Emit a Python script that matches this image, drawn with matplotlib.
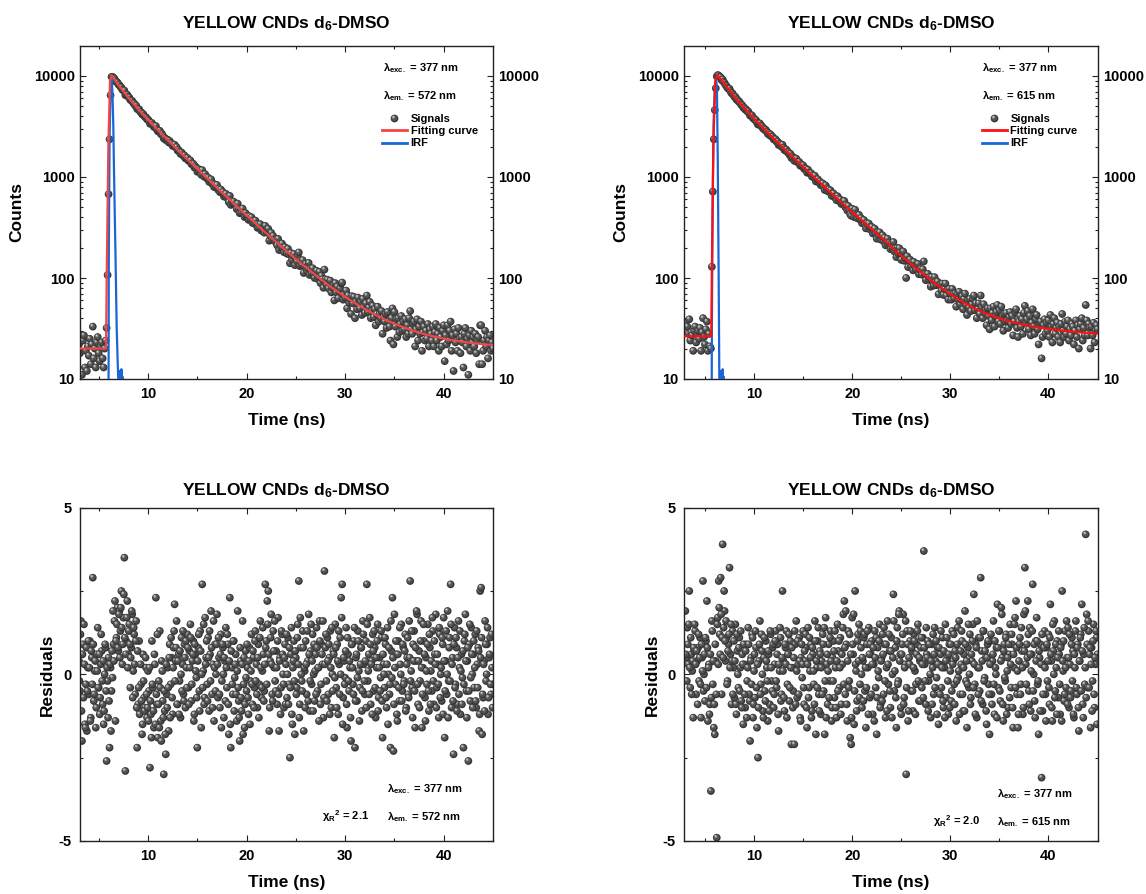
import numpy as np
import matplotlib
matplotlib.use("Agg")
import matplotlib.pyplot as plt
from matplotlib.path import Path
from matplotlib.lines import Line2D
from matplotlib.legend_handler import HandlerTuple
from matplotlib.ticker import LogLocator, NullFormatter, FixedLocator

# ---------------- data ----------------
time_ns = [
    3.0, 3.1, 3.2, 3.3, 3.4, 3.5, 3.6, 3.7, 3.8, 3.9,
    4.0, 4.1, 4.2, 4.3, 4.4, 4.5, 4.6, 4.7, 4.8, 4.9,
    5.0, 5.1, 5.2, 5.3, 5.4, 5.5, 5.6, 5.7, 5.8, 5.9,
    6.0, 6.1, 6.2, 6.3, 6.4, 6.5, 6.6, 6.7, 6.8, 6.9,
    7.0, 7.1, 7.2, 7.3, 7.4, 7.5, 7.6, 7.7, 7.8, 7.9,
    8.0, 8.1, 8.2, 8.3, 8.4, 8.5, 8.6, 8.7, 8.8, 8.9,
    9.0, 9.1, 9.2, 9.3, 9.4, 9.5, 9.6, 9.7, 9.8, 9.9,
    10.0, 10.1, 10.2, 10.3, 10.4, 10.5, 10.6, 10.7, 10.8, 10.9,
    11.0, 11.1, 11.2, 11.3, 11.4, 11.5, 11.6, 11.7, 11.8, 11.9,
    12.0, 12.1, 12.2, 12.3, 12.4, 12.5, 12.6, 12.7, 12.8, 12.9,
    13.0, 13.1, 13.2, 13.3, 13.4, 13.5, 13.6, 13.7, 13.8, 13.9,
    14.0, 14.1, 14.2, 14.3, 14.4, 14.5, 14.6, 14.7, 14.8, 14.9,
    15.0, 15.1, 15.2, 15.3, 15.4, 15.5, 15.6, 15.7, 15.8, 15.9,
    16.0, 16.1, 16.2, 16.3, 16.4, 16.5, 16.6, 16.7, 16.8, 16.9,
    17.0, 17.1, 17.2, 17.3, 17.4, 17.5, 17.6, 17.7, 17.8, 17.9,
    18.0, 18.1, 18.2, 18.3, 18.4, 18.5, 18.6, 18.7, 18.8, 18.9,
    19.0, 19.1, 19.2, 19.3, 19.4, 19.5, 19.6, 19.7, 19.8, 19.9,
    20.0, 20.1, 20.2, 20.3, 20.4, 20.5, 20.6, 20.7, 20.8, 20.9,
    21.0, 21.1, 21.2, 21.3, 21.4, 21.5, 21.6, 21.7, 21.8, 21.9,
    22.0, 22.1, 22.2, 22.3, 22.4, 22.5, 22.6, 22.7, 22.8, 22.9,
    23.0, 23.1, 23.2, 23.3, 23.4, 23.5, 23.6, 23.7, 23.8, 23.9,
    24.0, 24.1, 24.2, 24.3, 24.4, 24.5, 24.6, 24.7, 24.8, 24.9,
    25.0, 25.1, 25.2, 25.3, 25.4, 25.5, 25.6, 25.7, 25.8, 25.9,
    26.0, 26.1, 26.2, 26.3, 26.4, 26.5, 26.6, 26.7, 26.8, 26.9,
    27.0, 27.1, 27.2, 27.3, 27.4, 27.5, 27.6, 27.7, 27.8, 27.9,
    28.0, 28.1, 28.2, 28.3, 28.4, 28.5, 28.6, 28.7, 28.8, 28.9,
    29.0, 29.1, 29.2, 29.3, 29.4, 29.5, 29.6, 29.7, 29.8, 29.9,
    30.0, 30.1, 30.2, 30.3, 30.4, 30.5, 30.6, 30.7, 30.8, 30.9,
    31.0, 31.1, 31.2, 31.3, 31.4, 31.5, 31.6, 31.7, 31.8, 31.9,
    32.0, 32.1, 32.2, 32.3, 32.4, 32.5, 32.6, 32.7, 32.8, 32.9,
    33.0, 33.1, 33.2, 33.3, 33.4, 33.5, 33.6, 33.7, 33.8, 33.9,
    34.0, 34.1, 34.2, 34.3, 34.4, 34.5, 34.6, 34.7, 34.8, 34.9,
    35.0, 35.1, 35.2, 35.3, 35.4, 35.5, 35.6, 35.7, 35.8, 35.9,
    36.0, 36.1, 36.2, 36.3, 36.4, 36.5, 36.6, 36.7, 36.8, 36.9,
    37.0, 37.1, 37.2, 37.3, 37.4, 37.5, 37.6, 37.7, 37.8, 37.9,
    38.0, 38.1, 38.2, 38.3, 38.4, 38.5, 38.6, 38.7, 38.8, 38.9,
    39.0, 39.1, 39.2, 39.3, 39.4, 39.5, 39.6, 39.7, 39.8, 39.9,
    40.0, 40.1, 40.2, 40.3, 40.4, 40.5, 40.6, 40.7, 40.8, 40.9,
    41.0, 41.1, 41.2, 41.3, 41.4, 41.5, 41.6, 41.7, 41.8, 41.9,
    42.0, 42.1, 42.2, 42.3, 42.4, 42.5, 42.6, 42.7, 42.8, 42.9,
    43.0, 43.1, 43.2, 43.3, 43.4, 43.5, 43.6, 43.7, 43.8, 43.9,
    44.0, 44.1, 44.2, 44.3, 44.4, 44.5, 44.6, 44.7, 44.8, 44.9,
    45.0,
]

# in-between channels (residual panels are denser)
time_ns_mid = [
    3.05, 3.15, 3.25, 3.35, 3.45, 3.55, 3.65, 3.75, 3.85, 3.95,
    4.05, 4.15, 4.25, 4.35, 4.45, 4.55, 4.65, 4.75, 4.85, 4.95,
    5.05, 5.15, 5.25, 5.35, 5.45, 5.55, 5.65, 5.75, 5.85, 5.95,
    6.05, 6.15, 6.25, 6.35, 6.45, 6.55, 6.65, 6.75, 6.85, 6.95,
    7.05, 7.15, 7.25, 7.35, 7.45, 7.55, 7.65, 7.75, 7.85, 7.95,
    8.05, 8.15, 8.25, 8.35, 8.45, 8.55, 8.65, 8.75, 8.85, 8.95,
    9.05, 9.15, 9.25, 9.35, 9.45, 9.55, 9.65, 9.75, 9.85, 9.95,
    10.05, 10.15, 10.25, 10.35, 10.45, 10.55, 10.65, 10.75, 10.85, 10.95,
    11.05, 11.15, 11.25, 11.35, 11.45, 11.55, 11.65, 11.75, 11.85, 11.95,
    12.05, 12.15, 12.25, 12.35, 12.45, 12.55, 12.65, 12.75, 12.85, 12.95,
    13.05, 13.15, 13.25, 13.35, 13.45, 13.55, 13.65, 13.75, 13.85, 13.95,
    14.05, 14.15, 14.25, 14.35, 14.45, 14.55, 14.65, 14.75, 14.85, 14.95,
    15.05, 15.15, 15.25, 15.35, 15.45, 15.55, 15.65, 15.75, 15.85, 15.95,
    16.05, 16.15, 16.25, 16.35, 16.45, 16.55, 16.65, 16.75, 16.85, 16.95,
    17.05, 17.15, 17.25, 17.35, 17.45, 17.55, 17.65, 17.75, 17.85, 17.95,
    18.05, 18.15, 18.25, 18.35, 18.45, 18.55, 18.65, 18.75, 18.85, 18.95,
    19.05, 19.15, 19.25, 19.35, 19.45, 19.55, 19.65, 19.75, 19.85, 19.95,
    20.05, 20.15, 20.25, 20.35, 20.45, 20.55, 20.65, 20.75, 20.85, 20.95,
    21.05, 21.15, 21.25, 21.35, 21.45, 21.55, 21.65, 21.75, 21.85, 21.95,
    22.05, 22.15, 22.25, 22.35, 22.45, 22.55, 22.65, 22.75, 22.85, 22.95,
    23.05, 23.15, 23.25, 23.35, 23.45, 23.55, 23.65, 23.75, 23.85, 23.95,
    24.05, 24.15, 24.25, 24.35, 24.45, 24.55, 24.65, 24.75, 24.85, 24.95,
    25.05, 25.15, 25.25, 25.35, 25.45, 25.55, 25.65, 25.75, 25.85, 25.95,
    26.05, 26.15, 26.25, 26.35, 26.45, 26.55, 26.65, 26.75, 26.85, 26.95,
    27.05, 27.15, 27.25, 27.35, 27.45, 27.55, 27.65, 27.75, 27.85, 27.95,
    28.05, 28.15, 28.25, 28.35, 28.45, 28.55, 28.65, 28.75, 28.85, 28.95,
    29.05, 29.15, 29.25, 29.35, 29.45, 29.55, 29.65, 29.75, 29.85, 29.95,
    30.05, 30.15, 30.25, 30.35, 30.45, 30.55, 30.65, 30.75, 30.85, 30.95,
    31.05, 31.15, 31.25, 31.35, 31.45, 31.55, 31.65, 31.75, 31.85, 31.95,
    32.05, 32.15, 32.25, 32.35, 32.45, 32.55, 32.65, 32.75, 32.85, 32.95,
    33.05, 33.15, 33.25, 33.35, 33.45, 33.55, 33.65, 33.75, 33.85, 33.95,
    34.05, 34.15, 34.25, 34.35, 34.45, 34.55, 34.65, 34.75, 34.85, 34.95,
    35.05, 35.15, 35.25, 35.35, 35.45, 35.55, 35.65, 35.75, 35.85, 35.95,
    36.05, 36.15, 36.25, 36.35, 36.45, 36.55, 36.65, 36.75, 36.85, 36.95,
    37.05, 37.15, 37.25, 37.35, 37.45, 37.55, 37.65, 37.75, 37.85, 37.95,
    38.05, 38.15, 38.25, 38.35, 38.45, 38.55, 38.65, 38.75, 38.85, 38.95,
    39.05, 39.15, 39.25, 39.35, 39.45, 39.55, 39.65, 39.75, 39.85, 39.95,
    40.05, 40.15, 40.25, 40.35, 40.45, 40.55, 40.65, 40.75, 40.85, 40.95,
    41.05, 41.15, 41.25, 41.35, 41.45, 41.55, 41.65, 41.75, 41.85, 41.95,
    42.05, 42.15, 42.25, 42.35, 42.45, 42.55, 42.65, 42.75, 42.85, 42.95,
    43.05, 43.15, 43.25, 43.35, 43.45, 43.55, 43.65, 43.75, 43.85, 43.95,
    44.05, 44.15, 44.25, 44.35, 44.45, 44.55, 44.65, 44.75, 44.85, 44.95,
]

# Decay signals (counts), 572 nm emission
signals_572 = [
    22, 18, 27, 11, 24, 27, 13, 19, 12, 21,
    17, 25, 14, 22, 33, 16, 20, 13, 23, 26,
    18, 15, 21, 23, 16, 13, 20, 24, 32, 107,
    676, 2360, 6450, 9800, 9810, 9613, 9395, 8833, 8802, 8624,
    8251, 8113, 7821, 7693, 7300, 7219, 7174, 6460, 6596, 6513,
    6212, 6114, 5804, 5736, 5666, 5399, 5343, 5080, 5106, 4714,
    4682, 4692, 4433, 4374, 4171, 4225, 4041, 3925, 3905, 3720,
    3715, 3590, 3368, 3379, 3428, 3269, 3126, 3160, 3197, 2951,
    2828, 2852, 2866, 2659, 2692, 2570, 2400, 2440, 2320, 2355,
    2341, 2198, 2270, 2164, 2153, 2028, 2074, 2087, 1968, 1977,
    1826, 1850, 1776, 1691, 1752, 1682, 1610, 1635, 1524, 1538,
    1543, 1450, 1459, 1457, 1341, 1357, 1349, 1241, 1278, 1226,
    1127, 1204, 1135, 1172, 1051, 1170, 1061, 1006, 1067, 1007,
    961, 984, 895, 928, 948, 854, 862, 795, 843, 800,
    833, 747, 764, 707, 751, 699, 710, 640, 670, 682,
    623, 641, 562, 650, 529, 575, 544, 569, 533, 538,
    481, 545, 474, 438, 481, 438, 487, 437, 401, 439,
    407, 412, 376, 408, 380, 399, 351, 370, 345, 370,
    345, 314, 341, 314, 341, 294, 302, 304, 281, 328,
    294, 308, 307, 234, 262, 280, 237, 261, 240, 229,
    239, 210, 244, 189, 217, 200, 219, 198, 180, 202,
    191, 174, 195, 172, 140, 177, 151, 166, 173, 134,
    160, 146, 166, 179, 131, 149, 135, 150, 112, 131,
    138, 118, 127, 141, 107, 124, 111, 125, 110, 100,
    112, 118, 98, 103, 115, 89, 105, 97, 80, 121,
    97, 86, 96, 79, 89, 94, 72, 80, 85, 60,
    89, 72, 82, 63, 74, 79, 88, 90, 61, 69,
    64, 75, 50, 67, 57, 62, 44, 66, 56, 65,
    40, 59, 49, 64, 53, 50, 58, 43, 62, 52,
    45, 56, 67, 46, 51, 58, 40, 48, 53, 41,
    49, 34, 44, 52, 37, 44, 40, 47, 28, 41,
    37, 44, 32, 46, 37, 33, 24, 40, 50, 22,
    46, 33, 39, 26, 40, 29, 35, 42, 30, 37,
    31, 39, 26, 34, 28, 40, 47, 31, 28, 35,
    37, 21, 31, 39, 24, 33, 28, 37, 19, 29,
    33, 24, 30, 25, 35, 21, 31, 28, 24, 33,
    21, 29, 35, 24, 28, 19, 32, 26, 21, 30,
    34, 15, 27, 22, 34, 24, 30, 37, 19, 27,
    12, 31, 23, 28, 19, 32, 25, 18, 26, 23,
    13, 28, 32, 21, 25, 11, 27, 19, 30, 23,
    26, 21, 28, 18, 24, 26, 14, 34, 34, 14,
    19, 24, 30, 21, 26, 16, 24, 27, 19, 23,
    20,
]

# Decay signals (counts), 615 nm emission
signals_615 = [
    36, 29, 33, 28, 39, 24, 29, 27, 19, 30,
    33, 23, 28, 30, 25, 32, 19, 29, 40, 26,
    22, 31, 37, 19, 28, 21, 20, 129, 716, 2360,
    4600, 7560, 9900, 10200, 10100, 9834, 9706, 9085, 9234, 8731,
    8517, 8129, 7947, 7599, 7486, 7479, 7061, 6747, 6741, 6471,
    6224, 6225, 5850, 5835, 5607, 5577, 5372, 5165, 5135, 4858,
    4861, 4649, 4661, 4472, 4472, 4237, 4046, 4108, 4056, 3805,
    3800, 3662, 3665, 3436, 3304, 3396, 3389, 3205, 3188, 3017,
    3035, 2913, 2928, 2819, 2674, 2717, 2582, 2631, 2504, 2499,
    2356, 2367, 2362, 2230, 2243, 2074, 2112, 2112, 1990, 2085,
    1949, 1842, 1883, 1865, 1759, 1759, 1664, 1702, 1541, 1599,
    1538, 1443, 1527, 1522, 1404, 1411, 1412, 1294, 1332, 1282,
    1305, 1201, 1221, 1210, 1104, 1181, 1097, 1090, 1094, 1007,
    1040, 991, 1029, 903, 945, 950, 883, 903, 829, 858,
    863, 797, 743, 825, 770, 722, 755, 711, 736, 651,
    687, 686, 629, 639, 589, 646, 613, 574, 598, 540,
    557, 580, 579, 503, 527, 466, 516, 473, 427, 413,
    485, 453, 401, 474, 417, 391, 423, 421, 377, 392,
    349, 369, 375, 338, 310, 350, 331, 346, 303, 320,
    320, 276, 296, 308, 273, 245, 283, 262, 283, 240,
    258, 264, 231, 250, 211, 229, 245, 212, 222, 193,
    219, 198, 227, 183, 197, 161, 198, 173, 197, 177,
    151, 174, 183, 148, 158, 100, 164, 128, 149, 152,
    131, 143, 119, 144, 129, 122, 133, 138, 109, 120,
    123, 108, 122, 146, 109, 95, 108, 110, 97, 102,
    82, 102, 94, 84, 102, 91, 85, 92, 69, 85,
    86, 75, 88, 68, 78, 88, 67, 76, 61, 78,
    70, 61, 78, 69, 63, 70, 52, 69, 61, 73,
    55, 61, 66, 49, 62, 70, 54, 43, 60, 51,
    62, 47, 55, 62, 67, 48, 56, 40, 49, 56,
    44, 67, 51, 40, 55, 45, 48, 34, 50, 42,
    31, 50, 38, 45, 52, 33, 42, 46, 54, 37,
    48, 35, 52, 42, 30, 44, 37, 45, 38, 32,
    41, 46, 35, 42, 27, 37, 46, 49, 32, 26,
    37, 42, 33, 39, 28, 45, 53, 36, 39, 47,
    31, 42, 27, 36, 49, 33, 28, 39, 43, 31,
    22, 35, 37, 16, 26, 34, 39, 28, 36, 30,
    38, 26, 43, 33, 23, 35, 40, 28, 32, 36,
    26, 33, 23, 35, 44, 30, 26, 37, 28, 33,
    38, 24, 31, 27, 35, 33, 22, 30, 38, 26,
    34, 20, 31, 35, 40, 24, 32, 27, 54, 38,
    27, 35, 32, 20, 33, 27, 36, 23, 30, 34,
    31,
]

# Weighted residuals at time_ns
residuals_572 = [
    0.4, -0.5, 1.6, -2.0, 0.9, 1.5, -1.5, -0.3, -1.7, 0.2,
    -0.6, 1.0, -1.3, 0.5, 2.9, -0.8, 0.1, -1.6, 0.6, 1.4,
    -0.4, -1.2, 0.3, 0.7, -0.9, -1.5, 0.0, 0.8, -2.6, -0.2,
    0.5, -2.2, 0.2, -0.5, -0.1, 0.9, 1.6, -1.4, 1.1, 2.0,
    0.7, 1.9, 1.3, 2.5, 0.3, 1.7, 3.5, -2.9, 1.0, 2.2,
    0.6, 1.5, -0.4, 0.8, 1.8, 0.1, 1.2, -0.6, 1.6, -2.2,
    -0.9, 1.0, -1.1, -0.3, -1.8, 0.6, -0.7, -1.0, 0.2, -1.3,
    0.1, -0.5, -2.8, -1.2, 1.0, -0.4, -1.6, 0.3, 2.3, -0.9,
    -1.9, -0.2, 1.3, -1.4, 0.4, -0.8, -3.0, -1.1, -2.4, -0.6,
    0.2, -1.7, 0.9, -0.3, 0.5, -1.2, 0.8, 2.1, 0.4, 1.6,
    -0.9, 0.6, -0.2, -1.3, 1.1, 0.3, -0.6, 0.9, -1.0, 0.2,
    1.2, -0.4, 0.7, 1.5, -0.8, 0.4, 1.0, -1.2, 0.6, -0.1,
    -2.2, 0.8, -0.5, 1.3, -1.6, 2.7, 0.1, -0.9, 1.7, 0.5,
    -0.3, 1.1, -1.1, 0.6, 1.9, -0.6, 0.3, -1.4, 0.9, 0.0,
    1.8, -0.7, 0.5, -1.0, 1.2, -0.2, 0.8, -1.3, 0.4, 1.4,
    -0.4, 0.9, -1.8, 2.3, -2.2, 0.2, -0.6, 1.0, -0.1, 0.6,
    -1.4, 1.9, -0.8, -2.0, 0.4, -1.1, 1.6, -0.3, -1.6, 0.7,
    -0.5, 0.2, -1.2, 0.8, -0.2, 1.2, -0.9, 0.5, -0.4, 1.3,
    0.3, -1.0, 0.9, -0.3, 1.6, -0.7, 0.1, 0.6, -0.5, 2.7,
    1.0, 2.2, 2.5, -1.7, 0.4, 1.8, -0.6, 1.3, 0.2, -0.2,
    0.7, -0.9, 1.7, -1.7, 0.5, -0.4, 1.2, 0.0, -1.0, 0.9,
    0.3, -0.7, 1.1, -0.3, -2.5, 0.6, -1.2, 0.2, 1.0, -1.8,
    0.5, -0.4, 1.5, 2.8, -0.9, 0.8, -0.2, 1.3, -1.7, 0.1,
    1.0, -0.6, 0.4, 1.8, -1.1, 0.7, -0.3, 1.2, 0.0, -0.8,
    0.6, 1.4, -0.5, 0.2, 1.6, -0.9, 0.9, 0.3, -1.3, 3.1,
    0.8, -0.2, 1.1, -0.6, 0.5, 1.3, -1.0, 0.0, 0.7, -1.9,
    1.5, -0.4, 0.9, -1.2, 0.3, 1.1, 2.3, 2.7, -0.7, 0.4,
    -0.1, 1.4, -1.6, 0.6, -0.5, 0.2, -2.0, 0.9, -0.3, 1.0,
    -2.2, 0.5, -0.8, 1.3, 0.1, -0.4, 0.8, -1.1, 1.6, 0.3,
    -0.6, 1.0, 2.7, -0.2, 0.6, 1.7, -0.9, 0.4, 1.2, -0.5,
    0.8, -1.3, 0.2, 1.5, -0.7, 0.5, -0.1, 1.1, -1.9, 0.3,
    -0.4, 0.9, -1.0, 1.4, 0.0, -0.6, -2.2, 0.7, 2.3, -2.3,
    1.8, -0.3, 0.6, -1.4, 1.0, -0.8, 0.3, 1.5, -0.5, 0.8,
    -0.2, 1.2, -1.0, 0.5, -0.6, 1.6, 2.8, 0.1, -0.4, 0.9,
    1.3, -1.6, 0.4, 1.8, -0.9, 0.7, -0.2, 1.6, -1.6, 0.2,
    1.0, -0.7, 0.5, -0.3, 1.5, -1.1, 0.8, 0.1, -0.5, 1.3,
    -0.9, 0.6, 1.8, -0.4, 0.3, -1.3, 1.2, 0.0, -0.8, 0.9,
    1.7, -1.9, 0.4, -0.6, 1.9, -0.2, 1.1, 2.7, -1.0, 0.5,
    -2.4, 1.4, -0.3, 0.8, -0.9, 1.6, 0.2, -1.2, 0.6, -0.1,
    -2.2, 1.0, 1.8, -0.5, 0.4, -2.6, 0.9, -0.8, 1.4, 0.0,
    0.6, -0.4, 1.2, -1.0, 0.3, 0.8, -1.7, 2.5, 2.6, -1.8,
    -0.7, 0.4, 1.6, -0.2, 0.9, -1.2, 0.5, 1.1, -0.6, 0.2,
    -0.3,
]

residuals_615 = [
    1.9, 0.5, 1.4, 0.3, 2.5, -0.4, 0.6, 0.1, -1.3, 0.7,
    1.3, -0.6, 0.4, 0.8, -0.2, 1.1, -1.3, 0.5, 2.8, 0.0,
    -0.8, 1.0, 2.2, -1.4, 0.3, -0.9, -3.5, 1.6, -0.3, -1.6,
    -1.8, 0.4, -4.9, 1.7, 2.8, 1.2, 2.9, -0.6, 3.9, 1.4,
    1.9, 0.4, 1.1, -0.2, 0.9, 3.2, 0.6, -0.9, 1.3, 0.2,
    -0.7, 1.5, -1.2, 0.7, -0.4, 1.1, 0.2, -0.8, 0.6, -1.5,
    0.3, -1.0, 0.9, -0.2, 1.4, -0.6, -2.0, 0.5, 1.2, -1.3,
    0.1, -0.7, 0.8, -1.6, -2.5, 0.4, 1.6, -0.3, 0.7, -1.1,
    0.5, -0.5, 1.0, 0.2, -1.4, 0.6, -0.9, 1.2, -0.2, 0.8,
    -1.0, 0.3, 1.3, -0.4, 0.9, -1.7, 0.1, 1.1, -0.6, 2.5,
    0.4, -1.1, 0.8, 1.3, -0.3, 0.6, -0.8, 1.0, -2.1, 0.2,
    -0.5, -2.1, 0.9, 1.6, -0.7, 0.3, 1.1, -1.3, 0.5, -0.1,
    1.3, -0.9, 0.4, 0.8, -1.6, 1.4, -0.4, 0.1, 0.9, -1.1,
    0.6, -0.3, 1.6, -1.8, 0.2, 1.0, -0.6, 0.7, -1.2, 0.4,
    1.2, -0.5, -1.8, 1.7, 0.3, -0.9, 0.9, -0.2, 1.3, -1.4,
    0.5, 1.0, -0.7, 0.2, -1.3, 1.5, 0.7, -0.4, 1.1, -0.9,
    0.3, 1.8, 2.2, -0.6, 0.9, -1.4, 1.3, -0.2, -1.9, -2.1,
    1.7, 0.6, -1.5, 2.5, 0.1, -0.8, 1.2, 1.5, -0.3, 0.8,
    -1.0, 0.4, 1.1, -0.5, -1.6, 0.9, 0.2, 1.4, -0.7, 0.6,
    1.0, -1.2, 0.3, 1.3, -0.4, -1.8, 0.8, -0.1, 1.5, -0.9,
    0.5, 1.2, -0.6, 0.9, -1.3, 0.2, 1.6, -0.3, 0.7, -1.0,
    1.1, 0.0, 2.4, -0.5, 0.8, -1.6, 1.4, -0.2, 1.9, 0.6,
    -1.2, 0.9, 1.8, -0.7, 0.3, -3.0, 1.3, -1.4, 0.5, 1.0,
    -0.5, 0.7, -1.1, 1.2, 0.1, -0.3, 0.9, 1.5, -0.8, 0.4,
    0.8, -0.4, 1.1, 3.7, 0.3, -0.9, 0.6, 1.0, -0.2, 0.5,
    -1.3, 0.9, 0.2, -0.6, 1.4, 0.4, -0.1, 0.8, -1.5, 0.3,
    0.6, -0.4, 1.1, -1.0, 0.2, 1.5, -0.7, 0.5, -1.2, 0.9,
    0.1, -0.8, 1.3, 0.4, -0.3, 0.7, -1.4, 0.9, -0.1, 1.6,
    -0.6, 0.3, 1.0, -1.1, 0.6, 1.9, -0.2, -1.6, 0.8, -0.4,
    1.2, -0.7, 0.4, 1.5, 2.4, -0.3, 0.9, -1.3, 0.2, 1.1,
    -0.5, 2.9, 0.7, -0.9, 1.3, -0.1, 0.5, -1.5, 0.9, -0.3,
    -1.8, 1.0, -0.6, 0.4, 1.6, -1.2, 0.2, 0.8, 2.1, -0.4,
    1.3, -0.8, 2.0, 0.5, -1.4, 0.9, -0.2, 1.2, 0.1, -1.0,
    0.6, 1.5, -0.4, 0.9, -1.6, 0.2, 1.7, 2.2, -0.6, -1.6,
    0.4, 1.1, -0.3, 0.7, -1.2, 1.8, 3.2, 0.3, 0.9, 2.2,
    -0.5, 1.4, -1.1, 0.6, 2.7, 0.0, -0.8, 1.0, 1.7, -0.3,
    -1.8, 0.5, 0.9, -3.1, -1.1, 0.3, 1.3, -0.6, 0.8, -0.2,
    1.2, -0.9, 2.1, 0.4, -1.4, 0.7, 1.6, -0.5, 0.2, 1.0,
    -0.7, 0.6, -1.2, 0.9, 2.5, 0.1, -0.8, 1.3, -0.4, 0.5,
    1.4, -1.0, 0.3, -0.5, 1.1, 0.7, -1.3, 0.2, 1.6, -0.6,
    0.9, -1.7, 0.4, 1.2, 2.1, -0.9, 0.6, -0.3, 4.2, 1.8,
    -0.4, 1.3, 0.6, -1.6, 0.8, -0.2, 1.5, -1.0, 0.3, 1.1,
    0.6,
]

# Weighted residuals at time_ns_mid
residuals_572_mid = [
    -0.2, 1.2, -1.1, 0.6, -0.7, 0.3, -1.6, 0.8, -0.5, 1.0,
    0.2, -1.4, 0.7, -0.3, 0.9, -0.6, 0.4, -1.0, 0.1, -0.4,
    0.6, -0.7, 1.2, -0.2, 0.4, -1.1, 0.9, -0.5, 0.2, -1.3,
    -0.8, 0.3, -1.7, 0.7, 1.9, 0.4, 2.2, 1.0, 1.5, 0.8,
    1.8, 0.5, 2.0, 1.4, 0.9, 2.4, 1.1, 0.6, 1.7, 0.2,
    1.3, 0.9, 0.5, 1.9, -0.7, 1.4, 0.3, 1.0, -1.0, 0.7,
    -0.4, -1.2, 0.3, -0.8, -1.5, -0.2, -1.1, 0.5, -0.6, -1.0,
    -1.4, 0.2, -0.8, -1.9, -0.3, -1.1, 0.6, -1.5, -0.6, 1.2,
    -0.9, -1.6, -0.4, -2.0, 0.1, -1.3, -0.5, -1.8, 0.3, -1.0,
    -0.4, 0.5, -1.3, 1.1, -0.7, 0.2, 1.3, -0.2, 0.8, -0.9,
    0.4, -1.2, 0.7, 0.0, -0.5, 1.3, -0.8, 0.5, 1.0, -0.4,
    0.8, -0.9, 0.2, 1.1, -0.3, 0.6, -1.4, 0.9, 0.1, -0.7,
    0.4, 1.2, -1.1, 0.7, 0.0, -0.4, 1.5, -0.7, 0.3, 1.0,
    -0.8, 0.5, 1.3, -0.2, 0.8, -1.0, 1.6, 0.2, -0.5, 0.9,
    0.3, 1.1, -0.6, 0.6, -1.6, 0.9, 0.0, 0.5, -0.8, 0.2,
    1.2, -0.9, 0.4, -1.5, 0.7, -0.3, 1.0, -1.1, 0.3, -0.6,
    0.1, -0.4, -1.3, 0.8, -0.7, 0.3, -1.8, 0.5, -0.9, -0.1,
    0.9, -0.7, 0.4, -1.5, 0.1, -0.3, 0.7, -1.0, 1.0, -0.2,
    -0.6, 0.5, -1.3, 1.1, 0.2, -0.4, 1.4, -0.8, 0.3, 0.8,
    -0.3, 1.5, 0.6, -1.0, 1.1, 0.3, -0.8, 0.7, 1.6, -0.5,
    0.2, 1.0, -0.6, 0.4, -1.2, 1.3, 0.6, -0.3, 0.5, -0.9,
    1.2, 0.0, -0.9, 0.8, -0.4, 1.4, -1.5, 0.4, -0.2, 0.7,
    -0.6, 1.1, 0.3, -1.3, 1.7, 0.0, -0.5, 0.8, 0.2, -1.0,
    0.3, 1.3, -0.8, 0.6, -0.2, 1.5, 0.4, -1.1, 0.9, 0.1,
    -0.6, 0.8, 0.2, -1.4, 1.0, -0.3, 0.6, 1.6, -0.7, 0.3,
    1.2, -0.8, 0.4, 0.9, -1.2, 0.2, 1.4, -0.5, 0.6, -0.1,
    0.8, -1.0, 0.4, 1.3, -0.6, 0.0, 1.7, -1.5, 0.5, -0.3,
    0.7, -0.9, 1.1, -0.2, 0.4, -1.3, 0.9, 0.2, -0.6, 1.4,
    -0.8, 0.6, -0.1, 1.0, -1.4, 0.3, 0.8, -0.5, 1.2, -0.2,
    0.4, -1.0, 1.5, 0.1, -0.6, 0.9, 0.3, -1.2, 0.7, 1.3,
    -0.4, 0.5, 1.0, -1.1, 0.2, -0.5, 1.3, -0.8, 0.6, 0.0,
    1.1, -0.7, 0.3, -1.5, 0.8, -0.3, 1.6, -0.1, 0.5, -0.9,
    0.2, 1.0, -1.2, 0.6, -0.4, 1.4, 0.0, -0.8, 0.9, -0.3,
    0.7, -1.1, 0.3, 1.1, -0.7, 0.5, -0.2, 1.3, -1.3, 0.4,
    -0.5, 0.8, 1.9, -0.3, 0.4, -1.0, 1.0, 0.2, -0.6, 1.5,
    0.6, -1.4, 0.1, 0.9, -0.5, 1.2, -0.9, 0.4, 1.7, -0.2,
    1.0, 0.3, -1.0, 0.6, -0.3, 1.4, -0.7, 0.2, 1.1, -1.2,
    0.4, -0.5, 1.3, 0.0, -1.3, 0.8, -0.2, 1.5, 0.3, -0.8,
    0.9, -0.4, 1.1, -1.1, 0.5, -0.6, 1.3, 0.1, -0.9, 0.7,
    -0.3, 1.2, 0.4, -1.3, 0.8, -0.5, 1.5, -0.1, 0.6, -1.0,
    1.0, 0.2, -0.8, 1.3, -0.4, 0.7, -1.2, 0.5, 1.1, -0.6,
    0.3, -1.1, 0.9, 0.0, 1.4, -0.7, 0.6, -0.3, 1.2, -1.0,
]

residuals_615_mid = [
    0.6, -0.2, 0.9, 1.5, 0.2, 1.1, -0.6, 0.4, 0.8, 1.5,
    0.3, 0.7, -0.9, 1.2, 0.5, -0.3, 0.9, 0.1, -0.5, 0.6,
    1.1, -0.4, 0.8, 0.2, -1.2, 0.6, -0.7, 1.3, 0.4, -0.9,
    0.9, -0.6, 1.5, 0.3, 2.0, 0.6, 1.8, 1.1, 0.5, 2.5,
    1.0, 1.6, -0.3, 0.7, 1.2, 0.2, 1.5, 0.4, -0.6, 1.0,
    0.4, -0.9, 1.2, 0.0, 0.8, -0.5, 1.3, -1.0, 0.3, 0.9,
    -0.6, 0.7, -1.3, 0.2, 0.9, -0.8, 0.4, -0.3, 1.1, -0.9,
    0.6, 1.3, -0.4, 0.3, -1.0, 0.9, -0.6, 1.2, 0.0, -1.3,
    1.1, -0.8, 0.4, -0.2, 0.7, -1.1, 1.3, 0.2, -0.5, 0.9,
    -0.6, 1.0, -0.2, 0.6, -1.2, 0.3, 1.4, -0.8, 0.5, 0.1,
    -0.7, 0.9, 0.3, -1.3, 0.6, 1.2, -0.4, 0.2, 0.8, -1.0,
    0.5, 1.3, -0.9, 0.1, 1.0, -0.6, 0.4, -1.4, 0.9, 0.3,
    -0.4, 0.7, 1.2, -1.0, 0.3, -0.7, 1.1, 0.5, -1.3, 0.8,
    0.1, -0.9, 1.0, 0.4, -0.4, 1.4, -1.1, 0.6, 0.2, -0.6,
    0.9, 1.4, -0.2, -1.3, 0.6, 0.1, -0.7, 1.1, 0.4, -1.0,
    -0.2, 0.7, 1.3, -1.0, 0.4, -0.5, 1.0, 0.2, -1.2, 0.6,
    1.4, -0.3, 0.8, 1.9, -0.9, 0.4, -0.4, 1.2, 0.6, -1.3,
    0.9, 1.8, -0.5, 0.3, -1.1, 1.0, 0.4, -0.7, 1.3, 0.0,
    0.5, -0.8, 1.2, 0.2, -0.4, 1.3, -1.2, 0.6, 0.9, -0.6,
    0.3, 0.8, -1.4, 0.5, 1.1, -0.7, 0.1, 1.0, -1.0, 0.4,
    -0.8, 0.6, 1.4, -0.2, 0.9, -1.1, 0.3, 1.2, -0.5, 0.7,
    -1.3, 0.5, 1.6, 0.1, -0.7, 1.0, -0.3, 1.8, 0.4, -1.0,
    0.6, 1.2, -0.9, 0.2, 1.6, -0.4, 0.9, -1.1, 0.3, 1.3,
    0.8, -0.5, 0.2, 1.0, -1.2, 0.6, 1.3, -0.2, 0.5, -0.8,
    1.1, 0.3, -0.7, 0.8, -0.2, 1.4, 0.5, -1.1, 0.9, 0.0,
    0.4, -0.9, 1.2, 0.6, -0.4, 1.0, -1.2, 0.3, 0.8, -0.6,
    1.3, 0.2, -0.8, 0.7, -1.3, 0.4, 1.1, -0.2, 0.6, -1.0,
    0.9, -0.5, 0.3, 1.2, -0.9, 0.5, -0.2, 1.4, 0.1, -1.2,
    0.7, 1.3, -0.6, 0.2, -1.1, 0.9, 0.4, -0.3, 1.5, 0.0,
    -0.9, 0.6, 1.0, -0.4, 0.3, -1.2, 0.8, 1.6, -0.6, 0.2,
    1.1, -0.8, 0.4, 1.3, -0.2, 0.7, -1.1, 0.5, 1.0, -0.6,
    0.3, 1.2, -0.9, 0.6, -0.3, 1.0, 0.0, -1.3, 0.8, 1.3,
    -0.5, 0.4, 1.8, -0.9, 0.7, -0.1, 1.1, -1.2, 0.5, 0.9,
    -0.7, 0.3, 1.2, -1.0, 0.6, 1.5, -0.4, 0.8, 0.1, -1.2,
    0.9, -0.6, 1.4, 0.2, -1.0, 0.7, 1.9, -0.3, 0.5, 1.2,
    -0.9, 0.6, 0.1, 1.3, -0.5, 0.9, -1.3, 0.4, 1.0, -0.2,
    0.7, -1.1, 0.3, 1.2, -0.6, 0.8, 0.2, -1.4, 0.9, 0.4,
    -0.4, 1.1, 0.6, -1.0, 1.5, 0.0, -0.7, 0.9, -1.2, 0.5,
    1.3, -0.3, 0.8, -1.4, 0.4, 1.0, -0.6, 0.2, 1.6, -0.9,
    0.5, 1.2, -0.7, 0.9, -0.2, -1.2, 0.6, 1.3, -0.4, 0.8,
    -1.0, 0.4, 1.1, -0.5, 0.7, -1.3, 1.4, 0.2, -0.7, 0.9,
    1.6, -0.4, 0.8, 0.3, -1.1, 1.0, -0.6, 0.5, 1.3, -1.5,
]

# Fitting curves
fit_572_t = [3.0, 5.74, 5.81, 5.98, 6.15, 6.32, 7.3, 8.3, 9.3, 10.3, 11.3, 12.3, 13.3,
             14.3, 15.3, 16.3, 17.3, 18.3, 19.3, 20.3, 21.3, 22.3, 23.3, 24.3, 25.3,
             26.3, 27.3, 28.3, 29.3, 30.3, 31.3, 32.3, 33.3, 34.3, 35.3, 36.3, 37.3,
             38.3, 39.3, 40.3, 41.3, 42.3, 43.3, 44.3, 45.0]
fit_572_y = [20, 20, 103, 2160, 9120, 10100, 7477, 5676, 4394, 3449, 2732, 2178, 1745,
             1401, 1128, 910, 734, 594, 482, 392, 319, 261, 214, 176, 145,
             121, 101, 85, 72.6, 62.3, 54.0, 47.4, 42.0, 37.7, 34.3, 31.5, 29.2,
             27.4, 26.0, 24.8, 23.9, 23.1, 22.5, 22.0, 21.7]
fit_615_t = [3.0, 5.64, 5.70, 5.86, 6.05, 6.25, 7.3, 8.3, 9.3, 10.3, 11.3, 12.3, 13.3,
             14.3, 15.3, 16.3, 17.3, 18.3, 19.3, 20.3, 21.3, 22.3, 23.3, 24.3, 25.3,
             26.3, 27.3, 28.3, 29.3, 30.3, 31.3, 32.3, 33.3, 34.3, 35.3, 36.3, 37.3,
             38.3, 39.3, 40.3, 41.3, 42.3, 43.3, 44.3, 45.0]
fit_615_y = [26.5, 26.5, 120, 2300, 9000, 10300, 7616, 5782, 4485, 3531, 2808, 2249, 1810,
             1461, 1182, 959, 778, 634, 517, 423, 347, 286, 236, 190, 157,
             130, 108, 90, 77, 66, 57.5, 51, 46, 42, 39, 36.7, 34.8,
             33.2, 32, 31, 30.2, 29.5, 29, 28.5, 28.2]

# Instrument response functions (blue)
irf_572_t = [5.98, 6.02, 6.10, 6.20, 6.32, 6.40, 6.48, 6.56, 6.65, 6.74, 6.82, 6.92,
             7.00, 7.03, 7.08, 7.12, 7.18, 7.22, 7.30, 7.34, 7.42, 7.46]
irf_572_y = [1, 150, 2500, 7000, 9200, 6500, 3160, 1000, 324, 100, 33, 15,
             9, 1, 12, 1, 11.5, 1, 12.5, 1, 10.5, 1]
irf_615_t = [5.66, 5.70, 5.78, 5.88, 6.00, 6.15, 6.22, 6.30, 6.38, 6.45, 6.50,
             6.60, 6.64, 6.70, 6.74, 6.80, 6.84, 6.92, 6.96]
irf_615_y = [1, 30, 600, 3500, 8000, 9300, 7000, 1500, 150, 15, 1,
             12, 1, 11, 1, 12.5, 1, 10.5, 1]

title_text = r"YELLOW CNDs d$_{6}$-DMSO"
exc_nm = 377
em_nm = [572, 615]
chi2 = ["2.1", "2.0"]

assert len(time_ns) == len(signals_572) == len(signals_615) == len(residuals_572) == len(residuals_615)
assert len(time_ns_mid) == len(residuals_572_mid) == len(residuals_615_mid)

# ---------------- style ----------------
plt.rcParams['font.family'] = ['Liberation Sans', 'DejaVu Sans']
plt.rcParams['font.weight'] = 'bold'
plt.rcParams['mathtext.default'] = 'regular'
plt.rcParams['axes.linewidth'] = 1.0

W, H = 1146, 894
fig = plt.figure(figsize=(W / 100, H / 100), dpi=100)


def add_ax(l, r, t, b):
    return fig.add_axes([l / W, 1 - b / H, (r - l) / W, (b - t) / H])


ax_tl = add_ax(80, 493, 45.7, 379)
ax_tr = add_ax(684, 1098, 45.7, 379)
ax_bl = add_ax(80, 493, 507.7, 841)
ax_br = add_ax(684, 1098, 507.7, 841)

BALL_S = 31.0
BALL_MS = np.sqrt(BALL_S)
BALL_SPECS = [((0.0, 0.0, 1.0), '#343434'),
              ((-0.10, 0.12, 0.78), '#535353'),
              ((-0.26, 0.34, 0.38), '#979797'),
              ((-0.32, 0.42, 0.16), '#dcdcdc')]


def ball_paths_scatter():
    out = []
    for (cx, cy, r), _ in BALL_SPECS:
        c = Path.circle((cx, cy), r)
        out.append(Path(c.vertices * 0.5, c.codes))
    return out


def ball_marker(cx, cy, r):
    c = Path.circle((cx, cy), r)
    v = np.vstack([c.vertices, [[-1.0, -1.0], [1.0, 1.0]]])
    k = np.concatenate([c.codes, [Path.MOVETO, Path.MOVETO]])
    return Path(v, k)


def draw_balls(ax, x, y):
    n = len(BALL_SPECS)
    xr = np.repeat(np.asarray(x, float), n)
    yr = np.repeat(np.asarray(y, float), n)
    coll = ax.scatter(xr, yr, s=BALL_S, marker='o', linewidths=0, zorder=2)
    coll.set_paths(ball_paths_scatter())
    coll.set_facecolors([c for _, c in BALL_SPECS])
    coll.set_edgecolors('none')
    return coll


def ball_handle():
    return tuple(Line2D([], [], ls='none', marker=ball_marker(*spec), ms=BALL_MS,
                        mfc=col, mec='none') for spec, col in BALL_SPECS)


def style_axes(ax, log, right_labels, xlim):
    ax.set_xlim(*xlim)
    ax.xaxis.set_major_locator(FixedLocator([10, 20, 30, 40]))
    ax.xaxis.set_minor_locator(FixedLocator([5, 15, 25, 35, 45]))
    if log:
        ax.set_yscale('log')
        ax.set_ylim(10, 10 ** 4.3)
        ax.yaxis.set_major_locator(FixedLocator([10, 100, 1000, 10000]))
        ax.yaxis.set_minor_locator(LogLocator(base=10, subs=np.arange(2, 10)))
        ax.yaxis.set_minor_formatter(NullFormatter())
        ax.set_yticklabels(['10', '100', '1000', '10000'])
    else:
        ax.set_ylim(-5, 5)
        ax.yaxis.set_major_locator(FixedLocator([-5, 0, 5]))
        ax.yaxis.set_minor_locator(FixedLocator([-2.5, 2.5]))
        ax.set_yticklabels(['-5', '0', '5'])
    ax.set_xticklabels(['10', '20', '30', '40'])
    ax.tick_params(which='both', direction='in', top=True, right=True, width=0.8,
                   color='#222222')
    ax.tick_params(which='major', length=4.2)
    ax.tick_params(which='minor', length=2.4)
    ax.tick_params(axis='x', which='major', pad=5.5, labelsize=10.5)
    ax.tick_params(axis='y', which='major', pad=3.8 if log else 6.0, labelsize=10.5,
                   labelright=right_labels)
    for sp in ax.spines.values():
        sp.set_color('#222222')
        sp.set_linewidth(1.0)
    ax.set_xlabel('Time (ns)', fontsize=12.5, fontweight='bold')
    ax.xaxis.set_label_coords(0.5, -0.125)
    ax.xaxis.label.set_va('center')


red_l = '#f24545'
red_r = '#ff1010'
blue = '#1a66d6'

panels_top = [
    (ax_tl, signals_572, fit_572_t, fit_572_y, irf_572_t, irf_572_y, red_l, (3.1, 45.0),
     0.7337, 0.7305, -0.154, em_nm[0]),
    (ax_tr, signals_615, fit_615_t, fit_615_y, irf_615_t, irf_615_y, red_r, (2.86, 45.05),
     0.7198, 0.7186, -0.152, em_nm[1]),
]
for ax, sig, ft, fy, it, iy, red, xlim, tx, lx, ylx, em in panels_top:
    draw_balls(ax, time_ns, sig)
    ax.plot(it, iy, color=blue, lw=1.6, zorder=3)
    ax.plot(ft, fy, color=red, lw=1.6, zorder=4)
    style_axes(ax, True, True, xlim)
    ax.set_ylabel('Counts', fontsize=12.5, fontweight='bold')
    ax.yaxis.set_label_coords(ylx, 0.5)
    ax.yaxis.label.set_va('center')
    ax.set_title(title_text, fontsize=12.5, fontweight='bold', pad=12.5)
    ax.text(tx, 0.922, r"λ$_{exc.}$ = %d nm" % exc_nm, transform=ax.transAxes,
            fontsize=8, fontweight='bold', va='baseline', ha='left')
    ax.text(tx, 0.838, r"λ$_{em.}$ = %d nm" % em, transform=ax.transAxes,
            fontsize=8, fontweight='bold', va='baseline', ha='left')
    ax.legend([ball_handle(),
               Line2D([], [], color=red, lw=2.0),
               Line2D([], [], color=blue, lw=2.0)],
              ['Signals', 'Fitting curve', 'IRF'],
              handler_map={tuple: HandlerTuple(ndivide=1, pad=0)},
              loc='upper left', bbox_to_anchor=(lx, 0.795), frameon=False,
              prop={'size': 8, 'weight': 'bold'}, handlelength=2.3,
              handletextpad=0.3, labelspacing=0.2, borderpad=0, borderaxespad=0)

panels_bot = [
    (ax_bl, residuals_572, residuals_572_mid, (3.1, 45.0), 0.7426, 0.5852, 0.1473, 0.0624,
     -0.08, em_nm[0], chi2[0]),
    (ax_br, residuals_615, residuals_615_mid, (2.86, 45.05), 0.7556, 0.6014, 0.1305, 0.0474,
     -0.077, em_nm[1], chi2[1]),
]
for ax, res, res_mid, xlim, tx, cx, ye, ym, ylx, em, c2 in panels_bot:
    draw_balls(ax, time_ns, res)
    draw_balls(ax, time_ns_mid, res_mid)
    style_axes(ax, False, False, xlim)
    ax.set_ylabel('Residuals', fontsize=12.5, fontweight='bold')
    ax.yaxis.set_label_coords(ylx, 0.5)
    ax.yaxis.label.set_va('center')
    ax.set_title(title_text, fontsize=12.5, fontweight='bold', pad=8.6)
    ax.text(tx, ye, r"λ$_{exc.}$ = %d nm" % exc_nm, transform=ax.transAxes,
            fontsize=8, fontweight='bold', va='baseline', ha='left')
    ax.text(tx, ym, r"λ$_{em.}$ = %d nm" % em, transform=ax.transAxes,
            fontsize=8, fontweight='bold', va='baseline', ha='left')
    ax.text(cx, ym, r"χ$_{R}$$^{2}$ = %s" % c2, transform=ax.transAxes,
            fontsize=8, fontweight='bold', va='baseline', ha='left')

fig.savefig('out.png', dpi=100)
